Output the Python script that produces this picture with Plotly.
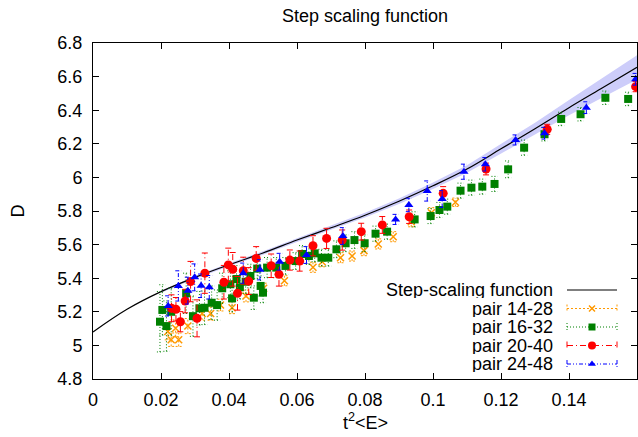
import plotly.graph_objects as go

# ---------------- data ----------------
curve_x = [0.00, 0.01, 0.02, 0.03, 0.04, 0.05, 0.06, 0.07, 0.08, 0.09, 0.10, 0.11, 0.12, 0.13, 0.14, 0.15, 0.16]
curve_d = [5.080, 5.215, 5.320, 5.405, 5.480, 5.550, 5.627, 5.700, 5.775, 5.858, 5.950, 6.050, 6.170, 6.290, 6.415, 6.535, 6.655]

band_x = [0.02, 0.03, 0.04, 0.05, 0.06, 0.07, 0.08, 0.09, 0.10, 0.11, 0.12, 0.13, 0.14, 0.15, 0.16]
band_c = [5.320, 5.405, 5.480, 5.550, 5.627, 5.700, 5.775, 5.858, 5.950, 6.050, 6.170, 6.290, 6.415, 6.535, 6.655]
band_h = [0.006, 0.008, 0.009, 0.010, 0.011, 0.012, 0.014, 0.016, 0.019, 0.023, 0.028, 0.035, 0.045, 0.058, 0.072]

x_o = [0.0220, 0.0230, 0.0243, 0.0252, 0.0279, 0.0321, 0.0346, 0.0375, 0.0409, 0.0450, 0.0502,
       0.0563, 0.0647, 0.0674, 0.0728, 0.0762, 0.0797, 0.0839, 0.0883, 0.0936, 0.0995, 0.1066]
d_o = [5.083, 5.034, 5.102, 5.034, 5.115, 5.190, 5.190, 5.240, 5.224, 5.294, 5.340,
       5.385, 5.465, 5.498, 5.522, 5.532, 5.564, 5.604, 5.647, 5.736, 5.790, 5.852]
e_o = [0.05, 0.04, 0.05, 0.04, 0.045, 0.04, 0.04, 0.035, 0.035, 0.035, 0.03,
       0.03, 0.03, 0.03, 0.03, 0.03, 0.03, 0.03, 0.03, 0.03, 0.03, 0.025]

x_g = [0.0197, 0.0204, 0.0216, 0.0230, 0.0274, 0.0294, 0.0313, 0.0328, 0.0349, 0.0365,
       0.0380, 0.0404, 0.0409, 0.0422, 0.0432, 0.0449, 0.0463, 0.0473, 0.0483, 0.0493,
       0.0500, 0.0512, 0.0539, 0.0566, 0.0596, 0.0615, 0.0635, 0.0652, 0.0672, 0.0692,
       0.0716, 0.0743, 0.0769, 0.0799, 0.0831, 0.0865, 0.0946, 0.0993, 0.1019, 0.1042,
       0.1081, 0.1113, 0.1145, 0.1181, 0.1221, 0.1268, 0.1328, 0.1377, 0.1434, 0.1507, 0.1574]
d_g = [5.141, 5.211, 5.115, 5.200, 5.310, 5.174, 5.221, 5.224, 5.254, 5.240,
       5.340, 5.364, 5.280, 5.395, 5.346, 5.379, 5.413, 5.284, 5.457, 5.354,
       5.314, 5.463, 5.463, 5.473, 5.502, 5.544, 5.532, 5.548, 5.522, 5.522,
       5.572, 5.608, 5.627, 5.608, 5.665, 5.677, 5.750, 5.770, 5.806, 5.826,
       5.921, 5.939, 5.945, 5.961, 6.048, 6.177, 6.257, 6.348, 6.376, 6.474, 6.467]
e_g = [0.18, 0.15, 0.15, 0.14, 0.12, 0.12, 0.10, 0.10, 0.10, 0.09,
       0.09, 0.08, 0.08, 0.08, 0.07, 0.07, 0.07, 0.07, 0.06, 0.06,
       0.06, 0.06, 0.06, 0.05, 0.05, 0.05, 0.05, 0.05, 0.05, 0.05,
       0.05, 0.05, 0.05, 0.05, 0.045, 0.045, 0.045, 0.045, 0.045, 0.045,
       0.045, 0.045, 0.045, 0.045, 0.05, 0.045, 0.04, 0.04, 0.04, 0.04, 0.04]

x_r = [0.0231, 0.0244, 0.0257, 0.0271, 0.0287, 0.0306, 0.0329, 0.0385, 0.0398, 0.0411,
       0.0425, 0.0442, 0.0458, 0.0480, 0.0524, 0.0547, 0.0579, 0.0608, 0.0647, 0.0687,
       0.0733, 0.0789, 0.0851, 0.0930, 0.1030, 0.1156, 0.1336, 0.1596]
d_r = [5.221, 5.215, 5.141, 5.264, 5.380, 5.161, 5.430, 5.376, 5.479, 5.453,
       5.310, 5.445, 5.383, 5.518, 5.474, 5.423, 5.508, 5.502, 5.593, 5.637,
       5.627, 5.677, 5.717, 5.766, 5.905, 6.050, 6.286, 6.540]
e_r = [0.08, 0.07, 0.06, 0.07, 0.12, 0.11, 0.12, 0.10, 0.10, 0.10,
       0.10, 0.08, 0.08, 0.07, 0.07, 0.07, 0.06, 0.06, 0.06, 0.06,
       0.06, 0.05, 0.05, 0.04, 0.04, 0.035, 0.03, 0.03]

x_b = [0.0221, 0.0251, 0.0279, 0.0299, 0.0318, 0.0342, 0.0442, 0.0491, 0.0549, 0.0628,
       0.0735, 0.0890, 0.0929, 0.0983, 0.1027, 0.1091, 0.1154, 0.1243, 0.1328, 0.1451, 0.1596]
d_b = [5.235, 5.354, 5.326, 5.405, 5.355, 5.346, 5.430, 5.450, 5.498, 5.538,
       5.651, 5.750, 5.836, 5.919, 5.871, 6.034, 6.078, 6.223, 6.263, 6.415, 6.584]
e_b = [0.06, 0.09, 0.08, 0.08, 0.07, 0.07, 0.06, 0.06, 0.05, 0.05,
       0.05, 0.03, 0.04, 0.06, 0.05, 0.045, 0.04, 0.03, 0.035, 0.035, 0.035]

x_ticks = [0, 0.02, 0.04, 0.06, 0.08, 0.10, 0.12, 0.14]
y_ticks = [4.8, 5.0, 5.2, 5.4, 5.6, 5.8, 6.0, 6.2, 6.4, 6.6, 6.8]

labels = ["Step-scaling function", "pair 14-28", "pair 16-32", "pair 20-40", "pair 24-48"]

FONT = "Liberation Sans, Arial, sans-serif"
FS = 18
CAP = 0.0009

series = [
    dict(x=x_o, d=d_o, e=e_o, color="#ff9900", symbol="x-thin-open", size=7, dash="2px,2px", lw=1.5),
    dict(x=x_g, d=d_g, e=e_g, color="#008000", symbol="square", size=8, dash="1px,2px", lw=0),
    dict(x=x_r, d=d_r, e=e_r, color="#ff0000", symbol="circle", size=9, dash="6px,3px,1px,3px", lw=0),
    dict(x=x_b, d=d_b, e=e_b, color="#0000ff", symbol="triangle-up", size=8, dash="4px,2px,1px,2px,1px,2px", lw=0),
]

fig = go.Figure()

# confidence band
fig.add_trace(go.Scatter(x=band_x, y=[c - h for c, h in zip(band_c, band_h)], mode="lines",
                         line=dict(width=0, color="rgba(0,0,0,0)"), showlegend=False, hoverinfo="skip"))
fig.add_trace(go.Scatter(x=band_x, y=[c + h for c, h in zip(band_c, band_h)], mode="lines",
                         line=dict(width=0, color="rgba(0,0,0,0)"), fill="tonexty",
                         fillcolor="rgb(205,205,250)", showlegend=False, hoverinfo="skip"))
# curve
fig.add_trace(go.Scatter(x=curve_x, y=curve_d, mode="lines", line=dict(color="black", width=1.2),
                         line_shape="spline", showlegend=False))

for s in series:
    ex, ey = [], []
    for xi, yi, ei in zip(s["x"], s["d"], s["e"]):
        ex += [xi, xi, None, xi - CAP, xi + CAP, None, xi - CAP, xi + CAP, None]
        ey += [yi - ei, yi + ei, None, yi + ei, yi + ei, None, yi - ei, yi - ei, None]
    fig.add_trace(go.Scatter(x=ex, y=ey, mode="lines",
                             line=dict(color=s["color"], width=1, dash=s["dash"]),
                             showlegend=False, hoverinfo="skip"))
    mk = dict(color=s["color"], size=s["size"], symbol=s["symbol"])
    mk["line"] = dict(color=s["color"], width=s["lw"]) if s["lw"] else dict(width=0)
    fig.add_trace(go.Scatter(x=s["x"], y=s["d"], mode="markers", marker=mk, showlegend=False))

# ---------- custom gnuplot-style key (pixel overlay axes) ----------
key_rows = [290, 308.5, 327, 345.5, 364]
kx0, kx1, kxm, ktext = 567, 617, 592, 554
fig.add_trace(go.Scatter(x=[kx0, kx1], y=[key_rows[0]] * 2, mode="lines",
                         line=dict(color="black", width=1.2), xaxis="x2", yaxis="y2", showlegend=False))
for s, ry in zip(series, key_rows[1:]):
    fig.add_trace(go.Scatter(x=[kx0, kx1, None, kx0, kx0, None, kx1, kx1],
                             y=[ry, ry, None, ry - 4, ry + 4, None, ry - 4, ry + 4],
                             mode="lines", line=dict(color=s["color"], width=1, dash=s["dash"]),
                             xaxis="x2", yaxis="y2", showlegend=False))
    mk = dict(color=s["color"], size=s["size"] - 1, symbol=s["symbol"])
    mk["line"] = dict(color=s["color"], width=s["lw"]) if s["lw"] else dict(width=0)
    fig.add_trace(go.Scatter(x=[kxm], y=[ry], mode="markers", marker=mk,
                             xaxis="x2", yaxis="y2", showlegend=False))

annotations = []
for lab, ry in zip(labels, key_rows):
    annotations.append(dict(text=lab, x=ktext, y=ry, xref="x2", yref="y2", xanchor="right",
                            yanchor="middle", showarrow=False, height=16, borderpad=0,
                            font=dict(family=FONT, size=FS, color="black")))
# x-axis title placed like gnuplot's xlabel (paper y: 0 = bottom axis at 379px, 1 = top at 43px)
annotations.append(dict(text="t<sup>2</sup>&lt;E&gt;", x=0.5, xref="paper", y=-(421 - 379) / 336,
                        yref="paper", xanchor="center", yanchor="middle", showarrow=False,
                        borderpad=0, font=dict(family=FONT, size=FS, color="black")))

axis_common = dict(showline=True, linecolor="black", linewidth=1, mirror="allticks", ticks="inside",
                   ticklen=6, tickcolor="black", showgrid=False, zeroline=False,
                   tickfont=dict(family=FONT, size=FS, color="black"))

fig.update_layout(
    width=638, height=437,
    margin=dict(l=93, r=1, t=43, b=58),
    paper_bgcolor="white", plot_bgcolor="white",
    title=dict(text="Step scaling function", x=0.5, xref="paper", xanchor="center",
               y=1 - 16 / 437, yref="container", yanchor="middle",
               font=dict(family=FONT, size=FS, color="black")),
    xaxis=dict(range=[0, 0.16], tickvals=x_ticks, ticklabelstandoff=4, **axis_common),
    yaxis=dict(range=[4.8, 6.8], tickvals=y_ticks, ticklabelstandoff=6,
               title=dict(text="D", font=dict(family=FONT, size=FS, color="black"), standoff=28),
               **axis_common),
    xaxis2=dict(overlaying="x", anchor="y2", range=[93, 637], visible=False),
    yaxis2=dict(overlaying="y", anchor="x2", range=[379, 43], visible=False),
    annotations=annotations,
    showlegend=False,
)

fig.write_html("out.html")
